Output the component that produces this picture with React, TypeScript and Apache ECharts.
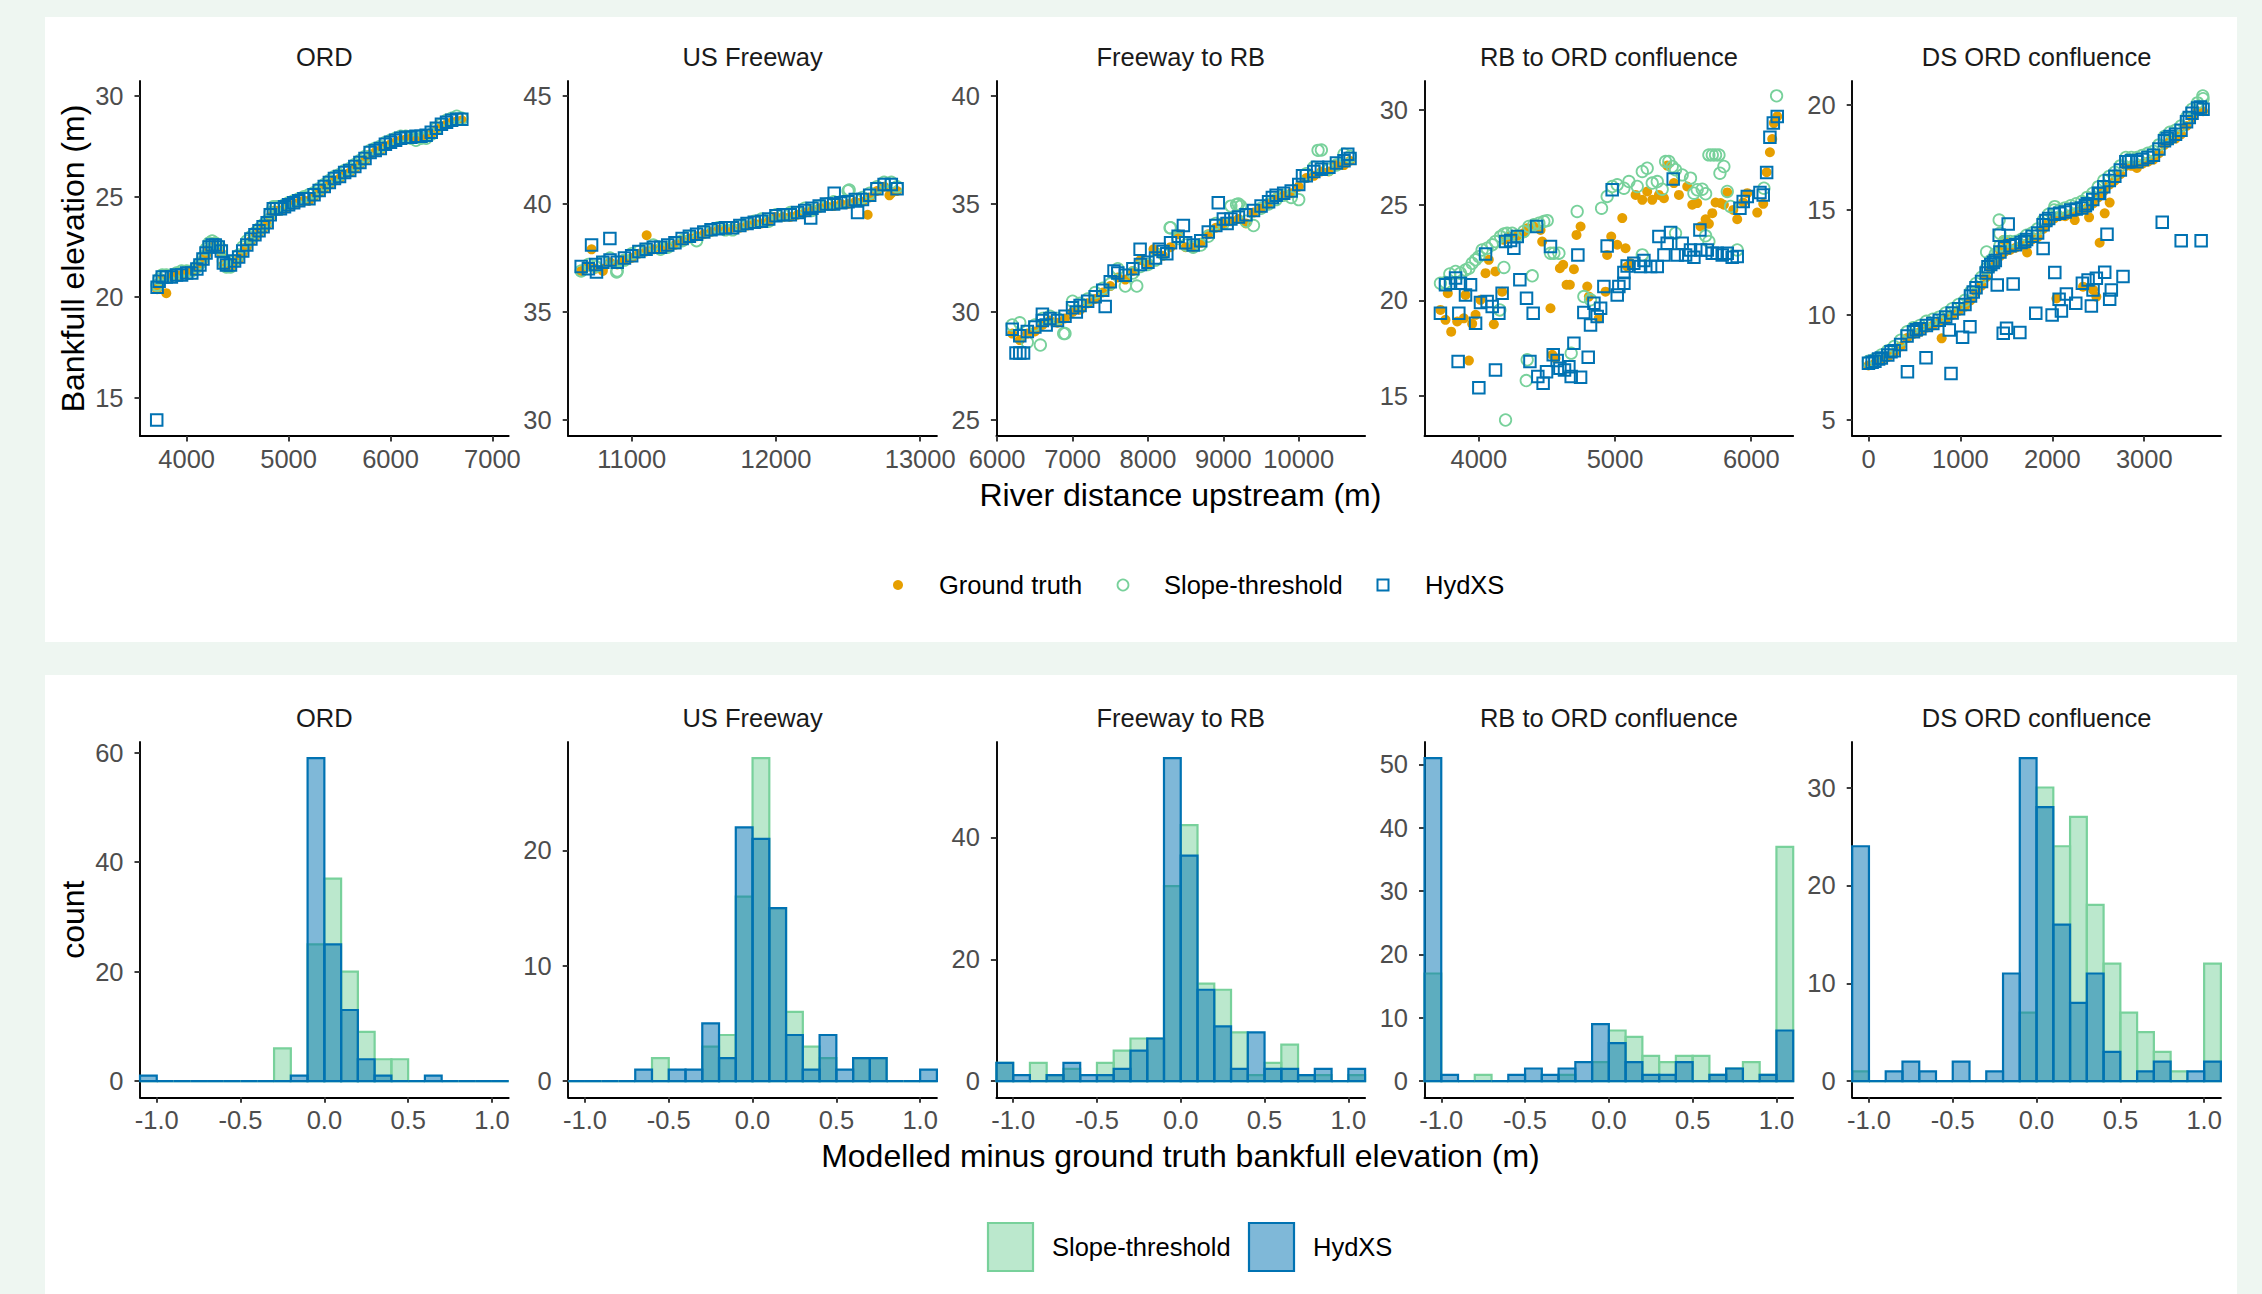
import React, { useEffect, useRef } from 'react';
import * as echarts from 'echarts';

const FONT = '"Liberation Sans", Arial, Helvetica, sans-serif';
const COL_GT = '#E69F00';
const COL_ST = '#78D19B';
const COL_HX = '#0072B2';
const FILL_ST = 'rgba(120,209,155,0.5)';
const FILL_HX = 'rgba(0,114,178,0.5)';

const panelNames = ['ORD', 'US Freeway', 'Freeway to RB', 'RB to ORD confluence', 'DS ORD confluence'];

// ---------- top row axes ----------
const topXRange = [[3542, 7160], [10560, 13116], [5990, 10880], [3601, 6308], [-177, 3834]];
const topYRange = [[13.1, 30.75], [29.26, 45.69], [24.26, 40.69], [12.88, 31.52], [4.24, 21.14]];
const topXTicks = [[4000, 5000, 6000, 7000], [11000, 12000, 13000], [6000, 7000, 8000, 9000, 10000], [4000, 5000, 6000], [0, 1000, 2000, 3000]];
const topYTicks = [[15, 20, 25, 30], [30, 35, 40, 45], [25, 30, 35, 40], [15, 20, 25, 30], [5, 10, 15, 20]];

// ---------- bottom row axes ----------
const histXRange = [-1.1, 1.1];
const histXTicks = [-1, -0.5, 0, 0.5, 1];
const histYRange = [[-2.95, 61.95], [-1.4, 29.4], [-2.65, 55.65], [-2.55, 53.55], [-1.65, 34.65]];
const histYTicks = [[0, 20, 40, 60], [0, 10, 20], [0, 20, 40], [0, 10, 20, 30, 40, 50], [0, 10, 20, 30]];

// ---------- ORD ----------
const ordX = [3710, 3730, 3760, 3800, 3850, 3900, 3950, 4000, 4050, 4100, 4130, 4160, 4190, 4220, 4250, 4280, 4310, 4340, 4360, 4390, 4430, 4470, 4510, 4550, 4590, 4630, 4670, 4710, 4750, 4790, 4820, 4850, 4880, 4920, 4960, 5000, 5050, 5100, 5150, 5200, 5250, 5300, 5350, 5400, 5450, 5500, 5550, 5600, 5650, 5700, 5750, 5800, 5850, 5900, 5950, 6000, 6050, 6100, 6150, 6200, 6250, 6300, 6350, 6400, 6450, 6500, 6550, 6600, 6650, 6700];
const ordHX = [20.5, 20.8, 21.0, 21.0, 21.0, 21.1, 21.1, 21.2, 21.2, 21.4, 21.6, 21.9, 22.2, 22.5, 22.6, 22.6, 22.5, 22.3, 21.7, 21.6, 21.6, 21.8, 22.0, 22.3, 22.6, 22.9, 23.1, 23.3, 23.5, 23.7, 24.1, 24.4, 24.4, 24.4, 24.5, 24.6, 24.7, 24.8, 24.9, 24.9, 25.1, 25.3, 25.5, 25.7, 25.9, 26.0, 26.2, 26.3, 26.5, 26.7, 26.9, 27.2, 27.3, 27.4, 27.6, 27.7, 27.8, 27.9, 27.95, 27.95, 28.0, 28.0, 28.05, 28.2, 28.4, 28.6, 28.7, 28.8, 28.85, 28.85];
const ordGT = [20.4, 20.6, 20.9, 20.2, 21.0, 21.1, 21.1, 21.2, 21.3, 21.4, 21.6, 21.8, 22.1, 22.4, 22.5, 22.5, 22.4, 22.2, 21.6, 21.5, 21.5, 21.7, 21.9, 22.2, 22.5, 22.8, 23.0, 23.2, 23.4, 23.6, 24.0, 24.3, 24.3, 24.3, 24.4, 24.5, 24.6, 24.7, 24.8, 24.8, 25.0, 25.2, 25.4, 25.6, 25.8, 25.9, 26.1, 26.2, 26.4, 26.6, 26.8, 27.1, 27.2, 27.3, 27.5, 27.6, 27.7, 27.8, 27.85, 27.9, 27.9, 27.95, 28.0, 28.1, 28.3, 28.5, 28.6, 28.7, 28.75, 28.8];
const ordST = [20.6, 20.9, 21.1, 21.1, 21.1, 21.2, 21.3, 21.3, 21.3, 21.5, 21.7, 22.0, 22.4, 22.7, 22.8, 22.7, 22.6, 22.4, 21.8, 21.5, 21.5, 21.8, 22.1, 22.5, 22.8, 23.0, 23.2, 23.4, 23.6, 23.8, 24.2, 24.5, 24.5, 24.5, 24.6, 24.7, 24.8, 24.9, 25.0, 25.1, 25.2, 25.4, 25.6, 25.8, 26.0, 26.1, 26.3, 26.4, 26.6, 26.8, 27.0, 27.3, 27.4, 27.5, 27.7, 27.8, 27.9, 28.0, 28.0, 27.9, 27.8, 27.9, 27.9, 28.1, 28.4, 28.6, 28.8, 28.9, 29.0, 28.9];
const ordHXExtra = [[3706, 13.9]];

// ---------- US Freeway ----------
const usX = [10650, 10700, 10750, 10800, 10850, 10900, 10950, 11000, 11050, 11100, 11150, 11200, 11250, 11300, 11350, 11400, 11450, 11500, 11550, 11600, 11650, 11700, 11750, 11800, 11850, 11900, 11950, 12000, 12050, 12100, 12150, 12200, 12250, 12300, 12350, 12400, 12450, 12500, 12550, 12600, 12650, 12700, 12750, 12800, 12840];
const usHX = [37.1, 37.0, 37.2, 37.3, 37.4, 37.3, 37.5, 37.6, 37.8, 37.9, 38.0, 38.0, 38.1, 38.2, 38.4, 38.5, 38.6, 38.7, 38.8, 38.85, 38.9, 38.9, 39.0, 39.1, 39.15, 39.2, 39.3, 39.45, 39.5, 39.5, 39.6, 39.7, 39.8, 39.9, 40.0, 40.0, 40.05, 40.1, 40.2, 40.2, 40.4, 40.7, 40.9, 40.9, 40.7];
const usGT = [36.9, 37.1, 37.0, 36.9, 37.3, 37.2, 37.4, 37.5, 37.7, 37.8, 37.9, 38.0, 38.0, 38.1, 38.3, 38.4, 38.5, 38.6, 38.7, 38.8, 38.8, 38.9, 38.9, 39.0, 39.1, 39.1, 39.2, 39.4, 39.4, 39.4, 39.5, 39.6, 39.7, 39.8, 39.9, 39.9, 40.0, 40.0, 40.1, 40.1, 40.3, 40.6, 40.8, 40.5, 40.6];
const usST = [36.9, 37.2, 37.1, 37.3, 37.5, 36.9, 37.4, 37.7, 37.8, 37.9, 38.1, 37.9, 38.0, 38.2, 38.3, 38.5, 38.3, 38.7, 38.8, 38.9, 38.8, 38.8, 39.0, 39.1, 39.2, 39.3, 39.2, 39.5, 39.5, 39.6, 39.6, 39.8, 39.7, 39.9, 40.0, 40.1, 40.1, 40.6, 40.2, 40.3, 40.5, 40.8, 41.0, 41.0, 40.8];
const usHXExtra = [[10722, 38.1], [10849, 38.4], [12566, 39.6], [12404, 40.5], [12241, 39.35], [10756, 36.85]];
const usGTExtra = [[10722, 37.9], [11104, 38.55], [12636, 39.5], [12787, 40.4], [10800, 37.0]];
const usSTExtra = [[10896, 36.85], [12508, 40.65]];

// ---------- Freeway to RB ----------
const fwX = [6200, 6300, 6400, 6500, 6600, 6700, 6800, 6900, 7000, 7100, 7200, 7300, 7400, 7500, 7600, 7700, 7800, 7900, 8000, 8100, 8200, 8300, 8400, 8500, 8600, 8700, 8800, 8900, 9000, 9100, 9200, 9300, 9400, 9500, 9600, 9700, 9800, 9900, 10000, 10100, 10200, 10300, 10400, 10500, 10600, 10680];
const fwHX = [29.2, 28.9, 29.1, 29.3, 29.6, 29.7, 29.6, 29.8, 30.2, 30.3, 30.5, 30.7, 31.0, 31.4, 31.8, 31.7, 32.0, 32.2, 32.3, 32.5, 32.8, 33.2, 33.5, 33.2, 33.1, 33.3, 33.7, 34.0, 34.3, 34.3, 34.4, 34.5, 34.7, 34.9, 35.1, 35.4, 35.5, 35.6, 35.9, 36.3, 36.5, 36.6, 36.7, 36.9, 37.0, 37.1];
const fwGT = [29.0, 28.7, 29.0, 29.1, 29.4, 29.6, 29.5, 29.7, 30.0, 30.1, 30.4, 30.6, 30.9, 31.2, 31.6, 31.5, 31.9, 32.4, 32.2, 32.8, 32.6, 33.0, 33.6, 33.0, 33.0, 33.2, 33.6, 33.9, 34.1, 34.2, 34.3, 34.1, 34.6, 34.8, 35.0, 35.3, 35.4, 35.5, 35.8, 36.2, 36.3, 36.5, 36.5, 36.8, 36.8, 37.0];
const fwST = [29.4, 29.5, 28.6, 29.4, 29.7, 29.8, 29.7, 29.0, 30.5, 30.4, 30.6, 30.9, 31.1, 31.3, 32.0, 31.2, 31.8, 32.1, 32.2, 32.4, 32.7, 33.9, 33.4, 33.1, 33.0, 33.1, 33.5, 34.1, 34.1, 34.9, 35.0, 34.2, 34.0, 34.8, 35.0, 35.2, 35.4, 35.3, 35.2, 36.4, 36.7, 37.5, 36.6, 36.8, 37.3, 37.2];
const fwHXExtra = [[6250, 28.1], [6300, 28.1], [6350, 28.1], [8933, 35.05], [7896, 32.9], [8470, 34.0], [7433, 30.25], [6600, 29.9], [6650, 29.4], [7050, 30.0], [7550, 31.9], [8150, 32.9], [8250, 32.7], [9050, 34.1], [9650, 35.3], [10050, 36.3], [10250, 36.7], [10650, 37.3]];
const fwGTExtra = [[8073, 32.9]];
const fwSTExtra = [[10256, 37.48], [9175, 34.97], [9230, 34.9], [6573, 28.47], [6882, 29.0], [8293, 33.9], [7852, 31.2]];

// ---------- RB to ORD confluence ----------
const rbHX = [[3718, 19.33], [3755, 20.82], [3792, 20.9], [3829, 21.17], [3865, 20.9], [3902, 20.29], [3939, 20.82], [3976, 18.8], [3853, 19.33], [3848, 16.79], [4012, 19.89], [4061, 19.94], [4098, 19.68], [4122, 16.35], [4000, 15.42], [4147, 19.33], [4171, 20.38], [4049, 22.43], [4196, 23.09], [4233, 23.14], [4257, 22.74], [4282, 23.35], [4301, 21.08], [4350, 20.11], [4399, 19.33], [4375, 16.79], [4424, 23.88], [4526, 22.83], [4546, 17.14], [4433, 16.0], [4472, 15.65], [4497, 16.26], [4575, 16.84], [4595, 16.44], [4629, 16.35], [4661, 16.52], [4678, 16.0], [4698, 17.75], [4727, 22.39], [4747, 15.96], [4803, 17.02], [4771, 19.36], [4820, 18.71], [4845, 19.85], [4869, 19.15], [4894, 19.59], [4942, 22.86], [4918, 20.73], [4979, 25.81], [5016, 20.29], [5028, 20.73], [5065, 20.9], [5065, 21.46], [5089, 21.81], [5138, 21.95], [5187, 21.78], [5212, 22.09], [5261, 21.78], [5310, 21.78], [5322, 23.35], [5359, 22.39], [5383, 23.0], [5408, 23.56], [5427, 26.37], [5457, 22.39], [5493, 23.0], [5518, 22.39], [5554, 22.65], [5579, 22.27], [5623, 23.7], [5628, 22.65], [5677, 22.65], [5714, 22.48], [5750, 22.48], [5787, 22.39], [5824, 22.48], [5860, 22.27], [5897, 22.3], [5917, 24.84], [5941, 25.19], [5971, 25.46], [6064, 25.67], [6088, 25.54], [6113, 26.72], [6137, 28.57], [6162, 29.31], [6191, 29.66]];
const rbGT = [[3718, 19.5], [3755, 18.98], [3772, 20.38], [3797, 18.36], [3841, 18.89], [3890, 19.06], [3902, 20.29], [3927, 16.84], [3951, 18.77], [3976, 19.24], [4012, 20.03], [4049, 21.43], [4073, 22.13], [4110, 18.75], [4122, 21.52], [4171, 20.46], [4184, 23.18], [4220, 23.35], [4282, 23.39], [4330, 23.53], [4355, 23.79], [4404, 23.88], [4453, 23.7], [4465, 23.09], [4526, 19.59], [4539, 17.14], [4563, 16.96], [4595, 21.69], [4619, 21.87], [4644, 20.82], [4668, 20.82], [4698, 21.64], [4717, 23.44], [4747, 23.88], [4796, 20.73], [4808, 20.2], [4881, 19.06], [4930, 20.46], [4942, 22.39], [4972, 23.35], [5016, 22.92], [5053, 24.32], [5077, 22.74], [5089, 21.78], [5114, 21.95], [5151, 25.54], [5200, 25.28], [5236, 25.72], [5273, 25.28], [5322, 25.54], [5359, 25.37], [5383, 27.08], [5432, 26.16], [5469, 25.54], [5530, 25.98], [5567, 25.02], [5603, 25.11], [5628, 23.88], [5665, 24.26], [5689, 24.02], [5714, 24.58], [5738, 25.14], [5775, 25.11], [5799, 25.02], [5824, 25.67], [5868, 24.75], [5897, 24.26], [5941, 25.14], [5971, 25.63], [6044, 24.61], [6088, 25.07], [6113, 26.73], [6137, 27.78], [6166, 29.31], [6191, 29.66], [6154, 28.47]];
const rbST = [[3718, 20.9], [3755, 20.94], [3787, 21.39], [3829, 21.52], [3865, 21.43], [3902, 21.6], [3927, 21.69], [3951, 21.95], [3976, 22.13], [4000, 22.3], [4024, 22.65], [4061, 22.74], [4098, 22.92], [4122, 23.09], [4159, 23.35], [4184, 23.49], [4208, 23.53], [4245, 23.53], [4282, 23.39], [4330, 23.62], [4367, 23.88], [4404, 23.97], [4441, 24.05], [4477, 24.14], [4502, 24.19], [4526, 22.48], [4551, 22.48], [4588, 22.48], [4184, 21.73], [4154, 19.5], [4392, 21.29], [4355, 16.88], [4348, 15.79], [4678, 17.23], [4771, 20.2], [4722, 24.67], [4901, 24.84], [4942, 25.46], [4979, 25.98], [5016, 26.07], [5065, 25.89], [5102, 26.24], [5163, 25.98], [5200, 26.77], [5236, 26.94], [5273, 26.16], [5310, 26.24], [5346, 25.84], [5371, 27.29], [5395, 27.29], [5420, 27.03], [5444, 26.86], [5493, 26.59], [5554, 26.42], [5579, 25.63], [5603, 25.81], [5640, 25.84], [5665, 25.6], [5689, 27.64], [5714, 27.64], [5738, 27.64], [5763, 27.64], [5770, 26.68], [5799, 27.03], [5824, 25.72], [5848, 24.93], [5897, 22.65], [5665, 23.39], [5689, 23.09], [5200, 22.39], [6093, 25.89], [6186, 30.74], [4196, 13.72], [4820, 20.03], [5444, 23.53]];

// ---------- DS ORD confluence ----------
const dsX = [0, 70, 140, 210, 280, 350, 420, 490, 560, 630, 700, 770, 840, 910, 980, 1050, 1110, 1170, 1230, 1280, 1330, 1380, 1430, 1480, 1540, 1600, 1660, 1720, 1780, 1840, 1900, 1960, 2020, 2080, 2140, 2200, 2260, 2320, 2380, 2440, 2500, 2560, 2620, 2680, 2740, 2800, 2860, 2920, 2980, 3040, 3100, 3160, 3220, 3280, 3340, 3400, 3460, 3520, 3580, 3640];
const dsHX = [7.7, 7.8, 7.95, 8.1, 8.3, 8.6, 9.0, 9.2, 9.35, 9.5, 9.6, 9.75, 9.9, 10.1, 10.3, 10.5, 10.9, 11.3, 11.6, 12.0, 12.4, 12.6, 13.0, 13.2, 13.3, 13.35, 13.45, 13.6, 13.75, 13.9, 14.3, 14.6, 14.8, 14.85, 14.9, 15.0, 15.05, 15.1, 15.3, 15.5, 15.8, 16.1, 16.4, 16.6, 16.9, 17.3, 17.35, 17.3, 17.4, 17.5, 17.6, 17.9, 18.3, 18.5, 18.6, 18.8, 19.2, 19.6, 19.85, 19.8];
const dsGT = [7.6, 7.7, 7.85, 8.0, 8.2, 8.5, 8.9, 9.1, 9.2, 9.4, 9.5, 9.65, 9.8, 10.0, 10.2, 10.4, 10.7, 11.1, 11.4, 11.8, 12.2, 12.4, 12.8, 13.0, 13.1, 13.2, 13.3, 13.4, 13.6, 13.7, 14.1, 14.4, 14.6, 14.7, 14.7, 14.8, 14.9, 15.0, 15.1, 15.3, 15.6, 15.9, 16.2, 16.4, 16.7, 17.1, 17.1, 17.0, 17.2, 17.3, 17.4, 17.7, 18.1, 18.3, 18.4, 18.6, 19.0, 19.4, 19.7, 19.7];
const dsST = [7.8, 7.9, 8.1, 8.3, 8.5, 8.8, 9.2, 9.4, 9.5, 9.7, 9.8, 9.9, 10.1, 10.3, 10.5, 10.7, 11.1, 11.5, 11.8, 12.2, 12.6, 12.9, 13.3, 13.5, 13.5, 13.5, 13.6, 13.8, 13.9, 14.1, 14.5, 14.8, 15.0, 15.0, 15.1, 15.2, 15.3, 15.4, 15.6, 15.8, 16.1, 16.4, 16.6, 16.8, 17.1, 17.5, 17.5, 17.5, 17.6, 17.7, 17.8, 18.1, 18.5, 18.7, 18.8, 19.0, 19.4, 19.8, 20.1, 20.3];
const dsHXExtra = [[424, 7.3], [626, 7.97], [898, 7.22], [879, 9.29], [1024, 8.94], [1104, 9.44], [1466, 9.13], [1502, 9.37], [1647, 9.17], [1401, 11.43], [1574, 11.48], [1820, 10.08], [1998, 10.0], [2099, 10.19], [2027, 12.02], [2074, 10.75], [2153, 11.0], [2255, 10.56], [2327, 11.51], [2389, 11.67], [2425, 10.43], [2443, 11.19], [2570, 12.03], [2624, 10.75], [2642, 11.19], [2769, 11.83], [2515, 15.79], [2595, 13.84], [3196, 14.41], [3402, 13.54], [3619, 13.54], [1900, 13.17], [2479, 11.75], [1422, 13.8], [1520, 14.33], [40, 7.75], [110, 7.9], [245, 8.25], [520, 9.3], [1140, 11.1], [1300, 12.3], [1360, 12.5], [1700, 13.5], [1930, 14.5], [2360, 15.2], [2830, 17.3], [3250, 18.4], [3490, 19.4], [3610, 19.9]];
const dsGTExtra = [[796, 8.89], [2515, 13.44], [2570, 14.84], [2624, 15.35], [2400, 14.65], [2244, 14.52], [2045, 10.79], [2334, 11.35], [2479, 10.87], [2443, 11.2], [1726, 12.98], [1502, 13.57], [1430, 13.1], [1466, 13.57]];
const dsSTExtra = [[1422, 14.52], [1430, 13.89], [1285, 13.0], [2027, 15.16], [3637, 20.43]];

// ---------- histograms (bin width 0.1) ----------
const binWidth = 0.1;
const binLefts = [-1.1, -1.0, -0.9, -0.8, -0.7, -0.6, -0.5, -0.4, -0.3, -0.2, -0.1, 0.0, 0.1, 0.2, 0.3, 0.4, 0.5, 0.6, 0.7, 0.8, 0.9, 1.0];
const ordSlopeCounts = [0, 0, 0, 0, 0, 0, 0, 0, 6, 0, 25, 37, 20, 9, 4, 4, 0, 0, 0, 0, 0, 0];
const ordHydCounts = [1, 0, 0, 0, 0, 0, 0, 0, 0, 1, 59, 25, 13, 4, 1, 0, 0, 1, 0, 0, 0, 0];
const usSlopeCounts = [0, 0, 0, 0, 0, 2, 0, 0, 3, 4, 16, 28, 15, 6, 3, 2, 0, 2, 2, 0, 0, 0];
const usHydCounts = [0, 0, 0, 0, 1, 0, 1, 1, 5, 2, 22, 21, 15, 4, 1, 4, 1, 2, 2, 0, 0, 1];
const fwSlopeCounts = [3, 0, 3, 1, 2, 0, 3, 5, 7, 7, 32, 42, 16, 15, 8, 1, 3, 6, 1, 1, 0, 1];
const fwHydCounts = [3, 1, 0, 1, 3, 1, 1, 2, 5, 7, 53, 37, 15, 9, 2, 8, 2, 2, 1, 2, 0, 2];
const rbSlopeCounts = [17, 0, 0, 1, 0, 0, 0, 0, 1, 0, 3, 8, 7, 4, 3, 4, 4, 1, 2, 3, 1, 37];
const rbHydCounts = [51, 1, 0, 0, 0, 1, 2, 1, 2, 3, 9, 6, 3, 1, 1, 3, 0, 1, 2, 0, 1, 8];
const dsSlopeCounts = [1, 0, 0, 0, 0, 0, 0, 0, 0, 0, 7, 30, 24, 27, 18, 12, 7, 5, 3, 1, 0, 12];
const dsHydCounts = [24, 0, 1, 2, 1, 0, 2, 0, 1, 11, 33, 28, 16, 8, 11, 3, 0, 1, 2, 0, 1, 2];

// ---------- layout ----------
const GRID_LEFTS = [140, 568.2, 996.4, 1424.5, 1852.2];
const GRID_W = 368.7;
const TOP_T = 81;
const TOP_H = 355;
const BOT_T = 742;
const BOT_H = 355.3;

function zip(xs: number[], ys: number[]) {
  return xs.map((x, i) => [x, ys[i]]);
}

function makeAxis(gridIndex: number, range: number[], ticks: number[], isX: boolean, decimals: number) {
  return {
    type: 'value',
    gridIndex,
    min: range[0],
    max: range[1],
    axisLine: { show: true, onZero: false, lineStyle: { color: '#000000', width: 1.9 } },
    axisTick: { show: true, inside: false, length: 5.5, lineStyle: { color: '#333333', width: 1.9 }, customValues: ticks },
    axisLabel: {
      show: true,
      customValues: ticks,
      formatter: (v: number) => (decimals > 0 ? Number(v).toFixed(decimals) : String(Math.round(v))),
      color: '#4D4D4D',
      fontSize: 25.5,
      fontFamily: FONT,
      margin: isX ? 10 : 16.5,
    },
    splitLine: { show: false },
    splitArea: { show: false },
  };
}

function histSeries(i: number, counts: number[], stroke: string, fill: string) {
  return {
    type: 'custom',
    xAxisIndex: 5 + i,
    yAxisIndex: 5 + i,
    silent: true,
    data: counts.map((c, k) => [binLefts[k], binLefts[k] + binWidth, c]),
    encode: { x: [0, 1], y: 2 },
    renderItem: (_params: any, api: any) => {
      const a = api.coord([api.value(0), api.value(2)]);
      const b = api.coord([api.value(1), 0]);
      return {
        type: 'rect',
        shape: { x: a[0], y: a[1], width: b[0] - a[0], height: b[1] - a[1] },
        style: { fill, stroke, lineWidth: 2.2 },
      };
    },
  };
}

function scatterSeries(i: number, name: string, data: number[][], kind: 'gt' | 'st' | 'hx') {
  const base: any = { type: 'scatter', name, xAxisIndex: i, yAxisIndex: i, data, silent: true };
  if (kind === 'gt') {
    base.symbol = 'circle';
    base.symbolSize = 10;
    base.itemStyle = { color: COL_GT, opacity: 1 };
  } else if (kind === 'st') {
    base.symbol = 'circle';
    base.symbolSize = 11.5;
    base.itemStyle = { color: 'rgba(0,0,0,0)', borderColor: COL_ST, borderWidth: 1.8, opacity: 1 };
  } else {
    base.symbol = 'rect';
    base.symbolSize = 11.5;
    base.itemStyle = { color: 'rgba(0,0,0,0)', borderColor: COL_HX, borderWidth: 2, opacity: 1 };
  }
  return base;
}

export default function App() {
  const ref = useRef<HTMLDivElement | null>(null);

  useEffect(() => {
    document.body.style.margin = '0';
    if (!ref.current) return;
    const chart = echarts.init(ref.current, undefined, { renderer: 'svg' });

    const scatterPanels = [
      { gt: zip(ordX, ordGT), st: zip(ordX, ordST), hx: zip(ordX, ordHX).concat(ordHXExtra) },
      { gt: zip(usX, usGT).concat(usGTExtra), st: zip(usX, usST).concat(usSTExtra), hx: zip(usX, usHX).concat(usHXExtra) },
      { gt: zip(fwX, fwGT).concat(fwGTExtra), st: zip(fwX, fwST).concat(fwSTExtra), hx: zip(fwX, fwHX).concat(fwHXExtra) },
      { gt: rbGT, st: rbST, hx: rbHX },
      { gt: zip(dsX, dsGT).concat(dsGTExtra), st: zip(dsX, dsST).concat(dsSTExtra), hx: zip(dsX, dsHX).concat(dsHXExtra) },
    ];
    const slopeHists = [ordSlopeCounts, usSlopeCounts, fwSlopeCounts, rbSlopeCounts, dsSlopeCounts];
    const hydHists = [ordHydCounts, usHydCounts, fwHydCounts, rbHydCounts, dsHydCounts];

    const grids: any[] = [];
    const xAxes: any[] = [];
    const yAxes: any[] = [];
    for (let i = 0; i < 5; i++) {
      grids.push({ left: GRID_LEFTS[i], top: TOP_T, width: GRID_W, height: TOP_H, containLabel: false, outerBoundsMode: 'none' });
      xAxes.push(makeAxis(i, topXRange[i], topXTicks[i], true, 0));
      yAxes.push(makeAxis(i, topYRange[i], topYTicks[i], false, 0));
    }
    for (let i = 0; i < 5; i++) {
      grids.push({ left: GRID_LEFTS[i], top: BOT_T, width: GRID_W, height: BOT_H, containLabel: false, outerBoundsMode: 'none' });
      xAxes.push(makeAxis(5 + i, histXRange, histXTicks, true, 1));
      yAxes.push(makeAxis(5 + i, histYRange[i], histYTicks[i], false, 0));
    }

    const series: any[] = [];
    scatterPanels.forEach((p, i) => {
      series.push(scatterSeries(i, 'Ground truth', p.gt, 'gt'));
      series.push(scatterSeries(i, 'Slope-threshold', p.st, 'st'));
      series.push(scatterSeries(i, 'HydXS', p.hx, 'hx'));
    });
    for (let i = 0; i < 5; i++) {
      series.push(histSeries(i, slopeHists[i], COL_ST, FILL_ST));
      series.push(histSeries(i, hydHists[i], COL_HX, FILL_HX));
    }

    const graphics: any[] = [];
    const txt = (x: number, y: number, text: string, size: number, fill: string, align = 'center', rotation = 0) => ({
      type: 'text',
      x,
      y,
      rotation,
      silent: true,
      style: { text, fontSize: size, fontFamily: FONT, fill, align, verticalAlign: 'middle' },
    });
    for (let i = 0; i < 5; i++) {
      const cx = GRID_LEFTS[i] + GRID_W / 2;
      graphics.push(txt(cx, 57, panelNames[i], 25.5, '#1A1A1A'));
      graphics.push(txt(cx, 718, panelNames[i], 25.5, '#1A1A1A'));
    }
    const midX = (GRID_LEFTS[0] + GRID_LEFTS[4] + GRID_W) / 2;
    graphics.push(txt(73, TOP_T + TOP_H / 2, 'Bankfull elevation (m)', 32, '#000000', 'center', Math.PI / 2));
    graphics.push(txt(73, BOT_T + BOT_H / 2, 'count', 32, '#000000', 'center', Math.PI / 2));
    graphics.push(txt(midX, 495, 'River distance upstream (m)', 32, '#000000'));
    graphics.push(txt(midX, 1156, 'Modelled minus ground truth bankfull elevation (m)', 32, '#000000'));

    // top legend
    graphics.push({ type: 'circle', silent: true, shape: { cx: 898, cy: 585, r: 5 }, style: { fill: COL_GT } });
    graphics.push(txt(939, 585, 'Ground truth', 25.5, '#000000', 'left'));
    graphics.push({ type: 'circle', silent: true, shape: { cx: 1123, cy: 585, r: 5.5 }, style: { fill: 'none', stroke: COL_ST, lineWidth: 1.8 } });
    graphics.push(txt(1164, 585, 'Slope-threshold', 25.5, '#000000', 'left'));
    graphics.push({ type: 'rect', silent: true, shape: { x: 1377.5, y: 579.5, width: 11, height: 11 }, style: { fill: 'none', stroke: COL_HX, lineWidth: 2 } });
    graphics.push(txt(1425, 585, 'HydXS', 25.5, '#000000', 'left'));

    // bottom legend
    graphics.push({ type: 'rect', silent: true, shape: { x: 988, y: 1223, width: 45, height: 48 }, style: { fill: FILL_ST, stroke: COL_ST, lineWidth: 2.2 } });
    graphics.push(txt(1052, 1247, 'Slope-threshold', 25.5, '#000000', 'left'));
    graphics.push({ type: 'rect', silent: true, shape: { x: 1249, y: 1223, width: 45, height: 48 }, style: { fill: FILL_HX, stroke: COL_HX, lineWidth: 2.2 } });
    graphics.push(txt(1313, 1247, 'HydXS', 25.5, '#000000', 'left'));

    chart.setOption({
      animation: false,
      backgroundColor: 'transparent',
      textStyle: { fontFamily: FONT },
      grid: grids,
      xAxis: xAxes,
      yAxis: yAxes,
      series,
      graphic: { elements: graphics },
    });

    return () => {
      chart.dispose();
    };
  }, []);

  return (
    <div style={{ position: 'absolute', left: 0, top: 0, width: 2262, height: 1294, background: '#EEF6F1', overflow: 'hidden' }}>
      <div style={{ position: 'absolute', left: 45, top: 17, width: 2192, height: 625, background: '#FFFFFF' }} />
      <div style={{ position: 'absolute', left: 45, top: 675, width: 2192, height: 619, background: '#FFFFFF' }} />
      <div ref={ref} style={{ position: 'absolute', left: 0, top: 0, width: 2262, height: 1294 }} />
    </div>
  );
}
